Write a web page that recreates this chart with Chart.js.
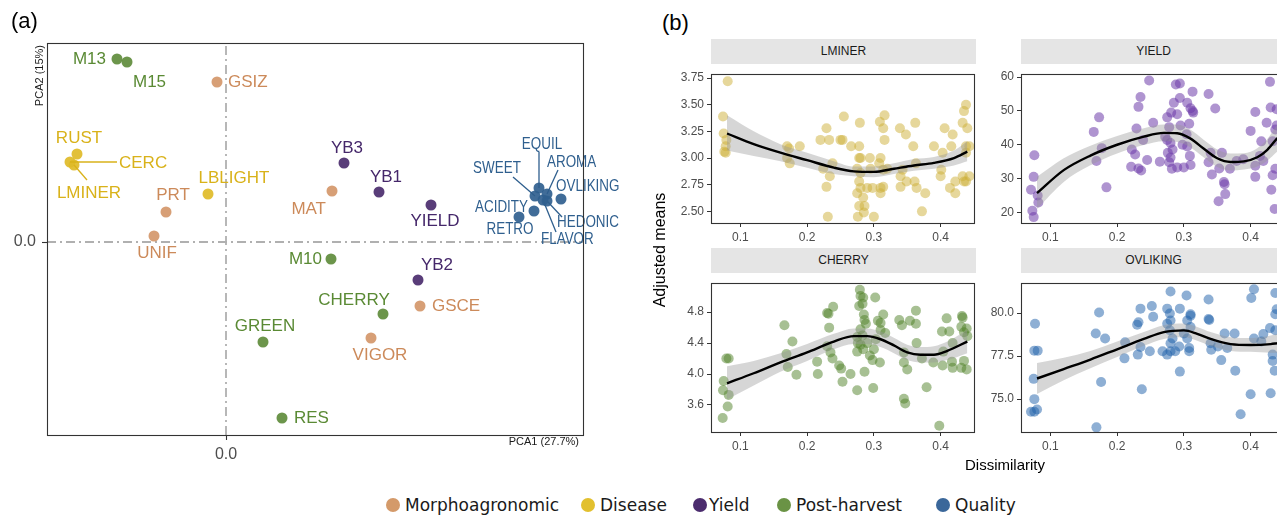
<!DOCTYPE html>
<html>
<head>
<meta charset="utf-8">
<script src="https://cdn.jsdelivr.net/npm/chart.js@4.4.1/dist/chart.umd.min.js"></script>
<style>
  html, body { margin: 0; padding: 0; overflow: hidden; }
  body { width: 1277px; height: 515px; position: relative; background: #fff;
         font-family: "Liberation Sans", Arial, sans-serif; }
  canvas { position: absolute; }
  .strip { position: absolute; background: #e5e5e5; color: #1a1a1a; font-size: 12px; font-weight: normal;
           text-align: center; height: 25px; line-height: 25px; }
  .txt { position: absolute; white-space: nowrap; }
  .leg { position: absolute; top: 494px; font-family: "DejaVu Sans", sans-serif; font-size: 17px; color: #1a1a1a; line-height: 22px; }
  .leg i { position: absolute; width: 14px; height: 14px; border-radius: 50%; top: 4px; }
</style>
</head>
<body>
<canvas id="pca"></canvas>
<canvas id="fLminer"></canvas>
<canvas id="fYield"></canvas>
<canvas id="fCherry"></canvas>
<canvas id="fOvliking"></canvas>
<div class="txt" style="left:11px;top:8px;font-size:22px">(a)</div>
<div class="txt" style="left:662px;top:10px;font-size:22px">(b)</div>
<div class="txt" style="left:595px;top:241px;font-size:16px;transform:rotate(-90deg);transform-origin:center;width:130px;text-align:center;">Adjusted means</div>
<div class="txt" style="left:965px;top:456px;font-size:15px">Dissimilarity</div>
<div id="legend"></div>
<script>
// ---- panel (a): PCA loadings ----
const morphoNames = ['GSIZ', 'PRT', 'UNIF', 'MAT', 'GSCE', 'VIGOR'];
const morphoPts = [[-0.018, 0.320], [-0.120, 0.060], [-0.144, 0.012], [0.212, 0.102], [0.388, -0.128], [0.290, -0.192]];
const diseaseNames = ['RUST', 'CERC', 'LMINER', 'LBLIGHT'];
const diseasePts = [[-0.298, 0.176], [-0.312, 0.160], [-0.304, 0.154], [-0.036, 0.096]];
const yieldNames = ['YB3', 'YB1', 'YIELD', 'YB2'];
const yieldPts = [[0.236, 0.158], [0.306, 0.100], [0.410, 0.074], [0.384, -0.076]];
const postNames = ['M13', 'M15', 'M10', 'CHERRY', 'GREEN', 'RES'];
const postPts = [[-0.218, 0.366], [-0.198, 0.360], [0.210, -0.034], [0.314, -0.144], [0.074, -0.200], [0.112, -0.352]];
const qualNames = ['EQUIL', 'SWEET', 'AROMA', 'OVLIKING', 'HEDONIC', 'FLAVOR', 'ACIDITY', 'RETRO'];
const qualPts = [[0.626, 0.108], [0.618, 0.092], [0.642, 0.096], [0.670, 0.086], [0.642, 0.082], [0.634, 0.084], [0.616, 0.062], [0.586, 0.050]];
const groupNames = ['Morphoagronomic', 'Disease', 'Yield', 'Post-harvest', 'Quality'];
const pcaXRange = [-0.358, 0.714];
const pcaYRange = [-0.386, 0.398];

// ---- panel (b): dissimilarity vs adjusted means ----
const facetTitles = ['LMINER', 'YIELD', 'CHERRY', 'OVLIKING'];
const dissTicks = [0.1, 0.2, 0.3, 0.4];
const dissRange = [0.056, 0.450];

const lminerPts = [[0.081,3.72],[0.074,3.39],[0.075,3.23],[0.079,3.17],[0.078,3.11],[0.076,3.06],[0.078,3.05],
  [0.170,3.11],[0.173,3.09],[0.189,3.11],[0.170,3.00],[0.174,2.95],[0.220,3.17],[0.229,3.28],[0.233,3.17],
  [0.224,2.90],[0.238,2.95],[0.234,2.83],[0.229,2.73],[0.231,2.45],[0.255,3.39],[0.250,3.17],[0.253,3.17],
  [0.266,3.11],[0.279,3.33],[0.278,3.11],[0.278,3.00],[0.280,3.00],[0.275,2.90],[0.280,2.86],[0.278,2.78],
  [0.275,2.67],[0.280,2.72],[0.278,2.55],[0.286,2.55],[0.284,2.63],[0.276,2.45],[0.285,2.49],[0.294,3.00],
  [0.295,2.90],[0.290,2.72],[0.298,2.72],[0.300,2.45],[0.309,3.34],[0.316,3.40],[0.314,3.28],[0.316,3.17],
  [0.310,3.00],[0.308,2.95],[0.314,2.89],[0.310,2.72],[0.314,2.73],[0.310,2.67],[0.320,2.90],[0.339,3.28],
  [0.348,3.22],[0.362,3.33],[0.359,3.11],[0.363,2.95],[0.343,2.89],[0.340,2.83],[0.340,2.73],[0.349,2.78],
  [0.361,2.78],[0.364,2.72],[0.377,2.67],[0.372,2.50],[0.390,3.11],[0.406,3.28],[0.403,3.05],[0.418,3.22],
  [0.416,3.11],[0.401,2.89],[0.400,2.83],[0.414,2.72],[0.422,2.78],[0.422,2.67],[0.433,3.33],[0.438,3.50],
  [0.435,3.44],[0.440,3.28],[0.438,3.11],[0.443,3.11],[0.438,3.05],[0.433,2.83],[0.443,2.83],[0.438,2.78],[0.435,2.78]];
const lminerFit = [[0.08,3.23,3.07,3.40],[0.12,3.13,3.02,3.25],[0.16,3.05,2.97,3.13],[0.20,2.98,2.91,3.05],
  [0.24,2.91,2.85,2.97],[0.27,2.875,2.83,2.92],[0.30,2.87,2.82,2.92],[0.33,2.90,2.85,2.95],[0.36,2.93,2.88,2.99],
  [0.39,2.955,2.90,3.01],[0.42,3.00,2.93,3.07],[0.44,3.06,2.97,3.16]];

const yieldFacetPts = [[0.076,36.9],[0.071,26.7],[0.075,30.5],[0.073,20.5],[0.075,18.6],[0.081,25.0],[0.082,22.9],
  [0.165,43.8],[0.173,48.1],[0.177,39.0],[0.169,35.2],[0.184,27.4],[0.229,44.8],[0.235,54.1],[0.232,51.2],
  [0.239,41.4],[0.222,38.6],[0.227,37.1],[0.221,33.5],[0.232,33.0],[0.236,32.4],[0.245,35.5],[0.248,59.0],
  [0.254,46.5],[0.264,35.0],[0.275,48.1],[0.278,45.2],[0.272,42.4],[0.275,41.4],[0.280,40.5],[0.281,49.5],
  [0.285,52.4],[0.276,37.6],[0.280,36.2],[0.278,34.8],[0.282,32.9],[0.283,38.6],[0.288,57.8],[0.294,58.1],
  [0.290,49.0],[0.294,53.8],[0.290,33.3],[0.295,45.7],[0.300,33.3],[0.298,40.0],[0.305,52.4],[0.310,50.8],
  [0.313,50.0],[0.308,46.2],[0.304,43.1],[0.305,39.5],[0.309,36.7],[0.310,34.0],[0.313,55.7],[0.314,49.5],
  [0.337,55.0],[0.347,50.7],[0.337,34.8],[0.340,37.6],[0.342,31.2],[0.353,33.0],[0.357,37.6],[0.360,29.0],
  [0.361,28.3],[0.362,25.4],[0.352,23.3],[0.369,32.9],[0.379,35.2],[0.389,35.7],[0.400,44.1],[0.407,49.7],
  [0.407,33.8],[0.407,30.5],[0.414,36.7],[0.416,41.0],[0.419,35.2],[0.424,46.5],[0.429,58.6],[0.430,51.0],
  [0.433,41.0],[0.431,26.7],[0.433,31.0],[0.437,32.9],[0.436,21.0],[0.439,50.5],[0.437,44.5],[0.439,45.7]];
const yieldFit = [[0.08,25.7,21.0,30.5],[0.12,32.5,29.0,36.0],[0.16,36.8,33.9,39.7],[0.20,40.0,37.4,42.6],
  [0.24,42.4,39.9,44.9],[0.27,43.5,41.0,46.0],[0.29,43.4,40.8,46.0],[0.31,41.8,39.2,44.4],[0.33,38.8,36.2,41.4],
  [0.35,36.0,33.4,38.6],[0.37,34.9,32.4,37.4],[0.39,35.1,32.7,37.5],[0.41,36.3,33.6,39.0],[0.425,38.5,35.3,41.7],
  [0.44,42.0,38.0,46.0]];

const cherryPts = [[0.075,3.91],[0.074,3.79],[0.0735,3.43],[0.081,3.58],[0.0825,3.73],[0.079,4.20],[0.0825,4.20],
  [0.166,4.63],[0.178,4.42],[0.169,4.26],[0.171,4.09],[0.184,3.99],[0.215,4.16],[0.216,4.00],[0.230,4.79],
  [0.232,4.78],[0.239,4.87],[0.233,4.60],[0.230,4.36],[0.235,4.28],[0.238,4.20],[0.248,4.11],[0.251,4.07],
  [0.253,3.90],[0.265,4.00],[0.279,5.09],[0.280,5.01],[0.284,4.99],[0.278,4.88],[0.283,4.91],[0.285,4.77],
  [0.286,4.70],[0.288,4.65],[0.280,4.58],[0.283,4.50],[0.275,4.48],[0.276,4.40],[0.280,4.38],[0.275,4.29],
  [0.284,4.32],[0.290,4.40],[0.286,4.03],[0.275,3.79],[0.294,4.24],[0.298,4.18],[0.300,4.32],[0.302,4.99],
  [0.299,3.82],[0.306,4.69],[0.310,4.66],[0.314,4.77],[0.310,4.57],[0.317,4.53],[0.309,4.15],[0.303,4.45],
  [0.338,4.70],[0.342,4.63],[0.354,4.69],[0.363,4.82],[0.363,4.65],[0.364,4.40],[0.345,4.28],[0.350,4.06],
  [0.345,4.15],[0.345,3.68],[0.347,3.62],[0.372,4.20],[0.379,3.83],[0.398,3.33],[0.389,4.15],[0.402,4.55],
  [0.404,4.29],[0.409,4.72],[0.413,4.55],[0.418,4.40],[0.403,4.11],[0.417,4.16],[0.418,4.08],[0.432,4.75],
  [0.433,4.73],[0.431,4.61],[0.439,4.59],[0.435,4.54],[0.440,4.49],[0.431,4.08],[0.439,4.06],[0.435,4.17]];
const cherryFit = [[0.08,3.88,3.67,4.10],[0.12,4.01,3.85,4.17],[0.16,4.15,4.03,4.27],[0.20,4.28,4.17,4.39],
  [0.24,4.42,4.32,4.52],[0.27,4.49,4.39,4.59],[0.29,4.49,4.39,4.59],[0.31,4.45,4.35,4.55],[0.33,4.37,4.27,4.47],
  [0.35,4.28,4.18,4.38],[0.37,4.25,4.15,4.35],[0.39,4.25,4.15,4.36],[0.41,4.30,4.18,4.42],[0.44,4.42,4.27,4.57]];

const ovlikingPts = [[0.077,79.38],[0.076,77.82],[0.081,77.82],[0.075,76.18],[0.076,75.00],[0.071,74.27],[0.076,74.27],
  [0.080,74.40],[0.168,78.82],[0.173,80.04],[0.182,78.53],[0.176,76.00],[0.169,73.36],[0.211,77.37],[0.212,78.31],
  [0.230,79.32],[0.235,80.26],[0.232,79.47],[0.231,77.59],[0.235,78.03],[0.237,75.58],[0.249,77.78],[0.252,80.41],
  [0.254,79.79],[0.275,80.26],[0.279,79.98],[0.280,81.26],[0.280,79.57],[0.275,79.38],[0.279,79.00],[0.283,78.53],
  [0.280,78.25],[0.275,77.59],[0.280,77.78],[0.268,77.78],[0.287,77.78],[0.294,80.26],[0.294,76.60],[0.293,78.06],
  [0.304,81.03],[0.305,79.57],[0.310,79.94],[0.310,79.85],[0.300,78.82],[0.305,78.53],[0.308,77.97],[0.308,77.78],
  [0.310,79.19],[0.337,80.79],[0.337,79.66],[0.338,79.60],[0.340,78.25],[0.341,77.87],[0.351,78.06],[0.356,77.27],
  [0.361,78.82],[0.365,77.97],[0.376,78.82],[0.377,76.65],[0.385,74.12],[0.400,75.28],[0.401,80.88],[0.405,81.39],
  [0.405,78.53],[0.419,78.78],[0.416,78.35],[0.429,79.13],[0.430,75.34],[0.433,77.59],[0.433,77.22],[0.436,76.65],
  [0.437,81.17],[0.439,80.23],[0.437,79.94],[0.437,79.00]];
const ovlikingFit = [[0.08,76.2,75.3,77.1],[0.12,76.75,76.1,77.4],[0.16,77.3,76.8,77.8],[0.20,77.9,77.45,78.35],
  [0.24,78.5,78.1,78.9],[0.27,78.9,78.5,79.3],[0.30,79.0,78.6,79.4],[0.32,78.8,78.4,79.2],[0.34,78.5,78.1,78.9],
  [0.37,78.2,77.8,78.6],[0.40,78.15,77.75,78.55],[0.43,78.2,77.7,78.7],[0.44,78.25,77.7,78.8]];

// ---- styles ----
const groupColors = ['rgba(212,151,106,0.92)', 'rgba(224,187,40,0.92)', 'rgba(75,44,110,0.92)', 'rgba(95,140,60,0.92)', 'rgba(48,96,143,0.92)'];
const groupText = ['#cc8a5a', '#d9b21a', '#45276a', '#5a8a34', '#2f5f8e'];
const facetColors = ['rgba(205,175,55,0.5)', 'rgba(110,60,170,0.55)', 'rgba(80,130,40,0.5)', 'rgba(30,95,170,0.5)'];

// label offset from point (px): dx, dy, align, optional leader end dx, dy
const labelLayout = {
  M13: [-11, 0, 'right'], M15: [6, 20, 'left'], GSIZ: [11, 0, 'left'], RUST: [2, -16, 'center'],
  CERC: [49, 1, 'left', 47, 0], LMINER: [15, 28, 'center', 13, 15], LBLIGHT: [26, -16, 'center'],
  PRT: [7, -17, 'center'], UNIF: [3, 17, 'center'], MAT: [-6, 18, 'right'], YB3: [3, -15, 'center'],
  YB1: [7, -15, 'center'], YIELD: [4, 16, 'center'], YB2: [19, -15, 'center'], GSCE: [12, 0, 'left'],
  CHERRY: [-29, -14, 'center'], GREEN: [2, -16, 'center'], VIGOR: [9, 17, 'center'], RES: [12, 0, 'left'],
  M10: [-9, 0, 'right'], EQUIL: [3, -43, 'center', 0, -36], AROMA: [0, -31, 'left', 11, -24],
  SWEET: [-38, -27, 'center', -22, -19], OVLIKING: [-5, -12, 'left'], ACIDITY: [-6, -3, 'right'],
  RETRO: [-9, 13, 'center'], HEDONIC: [10, 22, 'left', 15, 16], FLAVOR: [-2, 40, 'left', 13, 32]
};

Chart.defaults.font.family = '"Liberation Sans", Arial, sans-serif';

const frame = {
  id: 'frame',
  afterDraw(chart) {
    const a = chart.chartArea, c = chart.ctx;
    c.save();
    c.strokeStyle = '#333';
    c.lineWidth = 1.1;
    c.strokeRect(Math.round(a.left) + 0.5, Math.round(a.top) + 0.5, Math.round(a.right - a.left), Math.round(a.bottom - a.top));
    c.restore();
  }
};

// ---- PCA chart ----
const groups = [
  [morphoNames, morphoPts], [diseaseNames, diseasePts], [yieldNames, yieldPts], [postNames, postPts], [qualNames, qualPts]
];

const pointLabels = {
  id: 'pointLabels',
  afterDatasetsDraw(chart) {
    const c = chart.ctx;
    c.save();
    groups.forEach((g, gi) => {
      const meta = chart.getDatasetMeta(gi + 2);
      g[0].forEach((name, i) => {
        const el = meta.data[i];
        const lay = labelLayout[name];
        c.fillStyle = groupText[gi];
        c.strokeStyle = groupText[gi];
        if (lay.length > 3) {
          c.lineWidth = 1.3;
          c.beginPath();
          c.moveTo(el.x, el.y);
          c.lineTo(el.x + lay[3], el.y + lay[4]);
          c.stroke();
        }
        c.textAlign = lay[2];
        c.textBaseline = 'middle';
        if (gi === 4) {
          // quality labels are set narrower in the reference
          c.save();
          c.font = '16px "Liberation Sans", Arial, sans-serif';
          c.translate(el.x + lay[0], el.y + lay[1]);
          c.scale(0.84, 1);
          c.fillText(name, 0, 0);
          c.restore();
        } else {
          c.font = '17px "Liberation Sans", Arial, sans-serif';
          c.fillText(name, el.x + lay[0], el.y + lay[1]);
        }
      });
    });
    const a = chart.chartArea;
    c.fillStyle = '#1a1a1a';
    c.font = '11px "Liberation Sans", Arial, sans-serif';
    c.textAlign = 'right';
    c.textBaseline = 'middle';
    c.fillText('PCA1 (27.7%)', a.right - 4, a.bottom + 7);
    c.translate(a.left - 7, a.top + 2);
    c.rotate(-Math.PI / 2);
    c.fillText('PCA2 (15%)', 0, 0);
    c.restore();
  }
};

(function () {
  const cv = document.getElementById('pca');
  cv.width = 640; cv.height = 480;
  cv.style.left = '0px'; cv.style.top = '0px';
  const refStyle = { type: 'line', borderColor: '#b0b0b0', borderWidth: 1.8, borderDash: [9, 4, 2, 4], pointRadius: 0, order: 10 };
  const datasets = [
    Object.assign({ data: [{ x: 0, y: pcaYRange[0] }, { x: 0, y: pcaYRange[1] }] }, refStyle),
    Object.assign({ data: [{ x: pcaXRange[0], y: 0 }, { x: pcaXRange[1], y: 0 }] }, refStyle)
  ];
  groups.forEach((g, gi) => {
    datasets.push({
      label: groupNames[gi],
      data: g[1].map(p => ({ x: p[0], y: p[1] })),
      backgroundColor: groupColors[gi], borderWidth: 0, pointRadius: 5.5, order: 5 - gi
    });
  });
  const axis = (range, isX) => ({
    type: 'linear', min: range[0], max: range[1],
    afterBuildTicks: s => { s.ticks = [{ value: 0 }]; },
    afterFit: s => { if (isX) s.height = 45; else s.width = 47; },
    ticks: { font: { size: 16 }, color: '#4d4d4d', padding: isX ? 5 : 6, callback: v => v.toFixed(1), autoSkip: false, maxRotation: 0 },
    grid: { drawOnChartArea: false, tickLength: 5, color: '#333', tickWidth: 1.1 },
    border: { display: false }
  });
  new Chart(cv, {
    type: 'scatter',
    data: { datasets },
    options: {
      responsive: false, animation: false, events: [],
      layout: { padding: { left: 0, top: 43, right: 57, bottom: 0 } },
      plugins: { legend: { display: false }, tooltip: { enabled: false } },
      scales: { x: axis(pcaXRange, true), y: axis(pcaYRange, false) }
    },
    plugins: [frame, pointLabels]
  });
})();

// ---- facets ----
function facet(id, title, box, pts, fit, yRange, yTicks, dec, col) {
  const padL = 44, padT = 5, padR = 6, padB = 26;
  const cv = document.getElementById(id);
  cv.width = box.w + padL + padR; cv.height = box.h + padT + padB;
  cv.style.left = (box.x - padL) + 'px'; cv.style.top = (box.y - padT) + 'px';
  const strip = document.createElement('div');
  strip.className = 'strip';
  strip.style.left = box.x + 'px';
  strip.style.top = (box.y - 30) + 'px';
  strip.style.width = (box.w + 2) + 'px';
  strip.textContent = title;
  document.body.insertBefore(strip, cv);
  const curve = k => fit.map(r => ({ x: r[0], y: r[k] }));
  const lineBase = { type: 'line', pointRadius: 0, cubicInterpolationMode: 'monotone' };
  new Chart(cv, {
    type: 'scatter',
    data: {
      datasets: [
        Object.assign({ data: curve(1), borderColor: '#000', borderWidth: 2.4, order: 0 }, lineBase),
        Object.assign({ data: curve(3), borderWidth: 0, borderColor: 'rgba(0,0,0,0)', fill: '+1', backgroundColor: 'rgba(153,153,153,0.4)', order: 1 }, lineBase),
        Object.assign({ data: curve(2), borderWidth: 0, borderColor: 'rgba(0,0,0,0)', fill: false, order: 1 }, lineBase),
        { data: pts.map(p => ({ x: p[0], y: p[1] })), backgroundColor: col, borderWidth: 0, pointRadius: 5, order: 2 }
      ]
    },
    options: {
      responsive: false, animation: false, events: [],
      layout: { padding: { left: 0, top: padT, right: padR, bottom: 0 } },
      plugins: { legend: { display: false }, tooltip: { enabled: false } },
      scales: {
        x: {
          type: 'linear', min: dissRange[0], max: dissRange[1],
          afterBuildTicks: s => { s.ticks = dissTicks.map(v => ({ value: v })); },
          afterFit: s => { s.height = padB; },
          ticks: { font: { size: 12 }, color: '#4d4d4d', padding: 3, callback: v => v.toFixed(1), autoSkip: false, maxRotation: 0 },
          grid: { drawOnChartArea: false, tickLength: 4, color: '#333' },
          border: { display: false }
        },
        y: {
          type: 'linear', min: yRange[0], max: yRange[1],
          afterBuildTicks: s => { s.ticks = yTicks.map(v => ({ value: v })); },
          afterFit: s => { s.width = padL; },
          ticks: { font: { size: 12 }, color: '#4d4d4d', padding: 3, callback: v => v.toFixed(dec), autoSkip: false },
          grid: { drawOnChartArea: false, tickLength: 4, color: '#333' },
          border: { display: false }
        }
      }
    },
    plugins: [frame]
  });
}

facet('fLminer', facetTitles[0], { x: 711, y: 69, w: 263, h: 154 }, lminerPts, lminerFit, [2.391, 3.786], [2.5, 2.75, 3.0, 3.25, 3.5, 3.75], 2, facetColors[0]);
facet('fYield', facetTitles[1], { x: 1021, y: 69, w: 263, h: 154 }, yieldFacetPts, yieldFit, [16.86, 60.86], [20, 30, 40, 50, 60], 0, facetColors[1]);
facet('fCherry', facetTitles[2], { x: 711, y: 278, w: 263, h: 154 }, cherryPts, cherryFit, [3.25, 5.175], [3.6, 4.0, 4.4, 4.8], 1, facetColors[2]);
facet('fOvliking', facetTitles[3], { x: 1021, y: 278, w: 263, h: 154 }, ovlikingPts, ovlikingFit, [73.09, 81.74], [75.0, 77.5, 80.0], 1, facetColors[3]);

// ---- legend ----
const legendX = [386, 581, 693, 777, 936];
const legendDot = ['#d49a6a', '#e2c02e', '#4b2c6e', '#6a9345', '#3a679a'];
const leg = document.getElementById('legend');
groupNames.forEach((name, i) => {
  const d = document.createElement('div');
  d.className = 'leg';
  d.style.left = legendX[i] + 'px';
  d.innerHTML = '<i style="left:0;background:' + legendDot[i] + '"></i><span style="margin-left:' + (i === 2 ? 16 : 19) + 'px">' + name + '</span>';
  leg.appendChild(d);
});
</script>
</body>
</html>
